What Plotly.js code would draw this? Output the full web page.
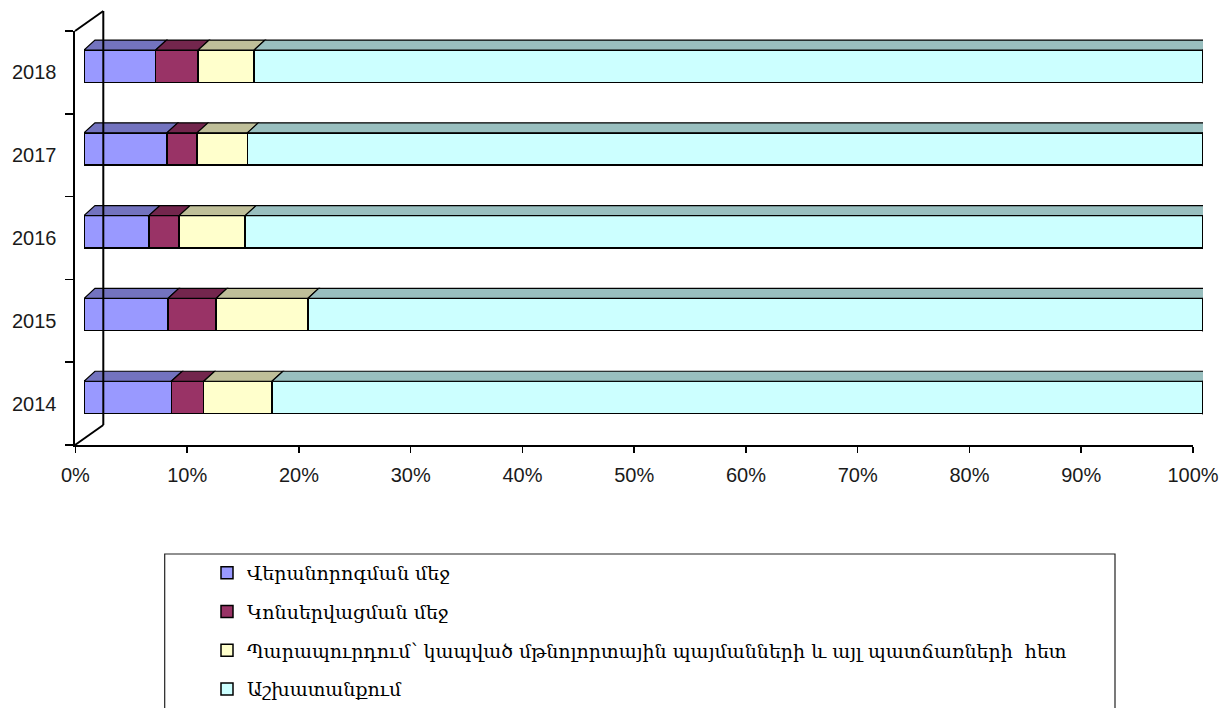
<!DOCTYPE html>
<html>
<head>
<meta charset="utf-8">
<script src="https://cdn.plot.ly/plotly-3.0.1.min.js"></script>
<style>html,body{margin:0;padding:0;background:#fff;}#chart{width:1228px;height:708px;}</style>
</head>
<body>
<div id="chart"></div>
<script>
// ---- data ----
const years = ['2014', '2015', '2016', '2017', '2018'];
const seriesNames = [
  'Վերանորոգման մեջ',
  'Կոնսերվացման մեջ',
  'Պարապուրդում՝ կապված մթնոլորտային պայմանների և այլ պատճառների  հետ',
  'Աշխատանքում'
];
const repair    = [7.8, 7.5, 5.8, 7.4, 6.4];
const conserved = [2.9, 4.3, 2.7, 2.7, 3.8];
const idle      = [6.1, 8.2, 5.9, 4.5, 5.0];
const working   = [83.2, 80.0, 85.6, 85.4, 84.8];
const xTicks = [0, 10, 20, 30, 40, 50, 60, 70, 80, 90, 100];

// ---- styles ----
const W = 1228, H = 708;
const px = v => v / W;
const py = v => 1 - v / H;
const frontColors = ['#9999FF', '#993366', '#FFFFCC', '#CCFFFF'];
const topColors   = ['#7373BF', '#73264D', '#BFBF99', '#99BFBF'];
const sideColor   = '#80A0A0';
const series = [repair, conserved, idle, working];

const yIdx = years.map((_, i) => i);
const barW = 0.39, barOff = -0.12;
const dX = 0.98, dY = 0.121; // 3D depth in data units

const traces = series.map((vals, s) => ({
  type: 'bar', orientation: 'h',
  name: seriesNames[s], legendgroup: 'g' + s,
  y: yIdx, x: vals, xaxis: 'x', yaxis: 'y',
  width: barW, offset: barOff,
  marker: {color: frontColors[s], line: {color: '#000', width: 1.5}},
  hoverinfo: 'x+name'
}));
// empty trace so the visible percent axis (x2) gets its own subplot
traces.push({type: 'scatter', mode: 'markers', x: [], y: [], xaxis: 'x2', yaxis: 'y', showlegend: false, hoverinfo: 'skip'});

// 3D faces computed from the data
const shapes = [];
yIdx.forEach(i => {
  let cum = 0;
  const yt = i + barOff + barW;
  const yb = i + barOff;
  series.forEach((vals, s) => {
    const x0 = cum, x1 = cum + vals[i];
    cum = x1;
    shapes.push({type: 'path', xref: 'x', yref: 'y', layer: 'above',
      path: `M${x0},${yt} L${x1},${yt} L${x1 + dX},${yt + dY} L${x0 + dX},${yt + dY} Z`,
      fillcolor: topColors[s], line: {color: '#000', width: 1.2}});
    if (s === series.length - 1) {
      shapes.push({type: 'path', xref: 'x', yref: 'y', layer: 'above',
        path: `M${x1},${yb} L${x1},${yt} L${x1 + dX},${yt + dY} L${x1 + dX},${yb + dY} Z`,
        fillcolor: sideColor, line: {color: '#000', width: 1.2}});
    }
  });
});

// back wall / floor edges
const frameLine = {color: '#000', width: 2};
shapes.push({type: 'line', xref: 'paper', yref: 'paper', x0: px(103.3), y0: py(11), x1: px(103.3), y1: py(425), line: frameLine});
shapes.push({type: 'line', xref: 'paper', yref: 'paper', x0: px(103.3), y0: py(11), x1: px(75), y1: py(31), line: frameLine});
shapes.push({type: 'line', xref: 'paper', yref: 'paper', x0: px(103.3), y0: py(425), x1: px(75), y1: py(445), line: frameLine});
// legend frame
shapes.push({type: 'rect', xref: 'paper', yref: 'paper', x0: px(164.7), y0: py(554), x1: px(1115), y1: py(720), line: {color: '#222', width: 1.2}});

const tickFont = {family: 'Liberation Sans, Arial, sans-serif', size: 20, color: '#1a1a1a'};

const layout = {
  width: W, height: H,
  margin: {l: 0, r: 0, t: 0, b: 0},
  paper_bgcolor: '#fff', plot_bgcolor: 'rgba(0,0,0,0)',
  barmode: 'stack',
  showlegend: true,
  xaxis: {domain: [px(84), px(1203)], range: [0, 100], visible: false, anchor: 'y', fixedrange: true},
  xaxis2: {domain: [px(75.4), px(1193)], range: [0, 100], anchor: 'y',
    tickmode: 'array', tickvals: xTicks, ticktext: xTicks.map(v => v + '%'),
    ticks: 'outside', ticklen: 6, tickwidth: 1.5, tickcolor: '#000', ticklabelstandoff: 5,
    showline: true, linecolor: '#000', linewidth: 2, showgrid: false, zeroline: false,
    tickfont: tickFont},
  yaxis: {domain: [py(445), py(31)], range: [-0.5, 4.5], anchor: 'x2',
    tickmode: 'array', tickvals: yIdx, ticktext: years,
    ticks: 'outside', ticklen: 13, tickcolor: 'rgba(0,0,0,0)',
    minor: {tickmode: 'array', tickvals: [-0.5, 0.5, 1.5, 2.5, 3.5, 4.5], ticks: 'outside', ticklen: 8, tickwidth: 1.5, tickcolor: '#000', showgrid: false},
    showline: true, linecolor: '#000', linewidth: 2, showgrid: false, zeroline: false,
    tickfont: tickFont},
  legend: {x: px(207), xanchor: 'left', y: 0, yanchor: 'bottom',
    orientation: 'v', traceorder: 'grouped', tracegroupgap: 11,
    bgcolor: 'rgba(0,0,0,0)', borderwidth: 0,
    font: {family: 'DejaVu Serif, serif', size: 19, color: '#000'}},
  shapes: shapes
};

Plotly.newPlot('chart', traces, layout, {displayModeBar: false, staticPlot: true});
</script>
</body>
</html>
